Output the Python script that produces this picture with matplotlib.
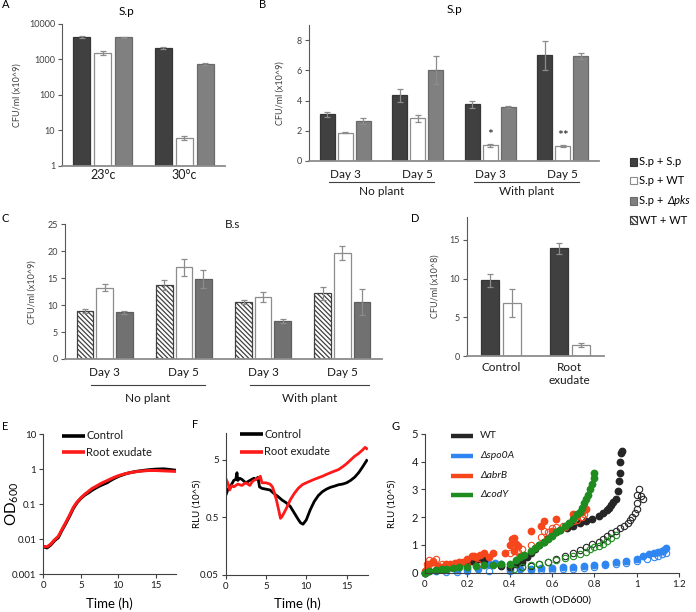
import matplotlib
matplotlib.use("Agg")
import matplotlib.pyplot as plt
import numpy as np
from matplotlib.patches import Rectangle

plt.rcParams["font.family"] = ["Lato", "DejaVu Sans"]
plt.rcParams["mathtext.fontset"] = "custom"
plt.rcParams["mathtext.rm"] = "Lato"
plt.rcParams["mathtext.it"] = "Lato:italic"
plt.rcParams["hatch.linewidth"] = 0.9
plt.rcParams["hatch.color"] = "#404040"

W, H = 696, 612

# ── Panel A: S.p, temperature ───────────────────────────────────────────────
temps = ["23°c", "30°c"]
a_spsp = [4400, 2150]
a_spsp_err = [300, 120]
a_spwt = [1550, 6.3]
a_spwt_err = [180, 0.8]
a_sppks = [4200, 740]
a_sppks_err = [80, 40]

# ── Panel B: S.p, soil ──────────────────────────────────────────────────────
days = ["Day 3", "Day 5", "Day 3", "Day 5"]
plant_groups = ["No plant", "With plant"]
b_spsp = [3.08, 4.34, 3.74, 7.0]
b_spsp_err = [0.15, 0.45, 0.2, 0.95]
b_spwt = [1.87, 2.82, 1.03, 1.01]
b_spwt_err = [0.03, 0.25, 0.12, 0.07]
b_sppks = [2.67, 6.0, 3.59, 6.97]
b_sppks_err = [0.2, 0.93, 0.08, 0.2]
b_stars = ["", "", "*", "**"]

# ── Panel C: B.s ────────────────────────────────────────────────────────────
c_wtwt = [8.9, 13.7, 10.6, 12.2]
c_wtwt_err = [0.35, 0.9, 0.4, 1.2]
c_spwt = [13.2, 17.0, 11.45, 19.6]
c_spwt_err = [0.65, 1.6, 0.9, 1.3]
c_sppks = [8.7, 14.85, 7.0, 10.6]
c_sppks_err = [0.3, 1.6, 0.35, 2.4]

# ── Panel D: root exudate ───────────────────────────────────────────────────
d_cats = ["Control", "Root\nexudate"]
d_spsp = [9.77, 13.93]
d_spsp_err = [0.8, 0.7]
d_spwt = [6.9, 1.41]
d_spwt_err = [1.8, 0.3]

# ── Panel E: growth OD600 ───────────────────────────────────────────────────
e_time = [0, 0.5, 1, 1.5, 2, 2.5, 3, 3.5, 4, 4.5, 5, 5.5, 6, 6.5, 7, 7.5, 8, 8.5,
          9, 9.5, 10, 10.5, 11, 11.5, 12, 12.5, 13, 13.5, 14, 14.5, 15, 15.5,
          16, 16.5, 17, 17.5]
e_ctrl = [0.0060, 0.0056, 0.0068, 0.0090, 0.011, 0.018, 0.028, 0.045, 0.075,
          0.11, 0.145, 0.18, 0.21, 0.25, 0.29, 0.33, 0.37, 0.41, 0.48, 0.55,
          0.62, 0.68, 0.74, 0.79, 0.83, 0.87, 0.90, 0.93, 0.96, 0.98, 1.0,
          1.01, 1.02, 1.0, 0.97, 0.94]
e_root = [0.0062, 0.0060, 0.0072, 0.0095, 0.012, 0.019, 0.030, 0.048, 0.08,
          0.115, 0.15, 0.19, 0.23, 0.28, 0.32, 0.37, 0.42, 0.47, 0.53, 0.59,
          0.65, 0.70, 0.75, 0.79, 0.83, 0.86, 0.88, 0.90, 0.92, 0.92, 0.92,
          0.91, 0.90, 0.89, 0.88, 0.87]

# ── Panel F: RLU ────────────────────────────────────────────────────────────
f_t_ctrl = [0, 0.25, 0.5, 0.75, 1.0, 1.25, 1.4, 1.5, 1.75, 2.0, 2.5, 3.0, 3.5,
            3.8, 4.0, 4.2, 4.5, 5.0, 5.5, 6.0, 6.5, 7.0, 7.5, 8.0, 8.5, 9.0,
            9.3, 9.6, 10.0, 10.5, 11.0, 11.5, 12.0, 12.5, 13.0, 13.5, 14.0,
            14.5, 15.0, 15.5, 16.0, 16.5, 17.0, 17.5]
f_ctrl = [1.2, 1.5, 1.7, 1.9, 2.2, 2.3, 3.0, 2.2, 2.4, 2.3, 2.0, 2.2, 2.4, 2.3,
          2.5, 1.7, 1.6, 1.55, 1.5, 1.3, 1.15, 1.0, 0.9, 0.78, 0.6, 0.46, 0.40,
          0.38, 0.45, 0.68, 0.95, 1.2, 1.4, 1.55, 1.67, 1.75, 1.85, 1.9, 2.0,
          2.2, 2.5, 3.0, 3.8, 4.9]
f_t_root = [0, 0.25, 0.5, 0.75, 1.0, 1.5, 2.0, 2.5, 3.0, 3.3, 3.5, 4.0, 4.3,
            4.5, 5.0, 5.5, 5.8, 6.0, 6.3, 6.6, 6.8, 7.0, 7.3, 7.6, 8.0, 8.5,
            9.0, 9.5, 10.0, 10.5, 11.0, 11.5, 12.0, 12.5, 13.0, 13.5, 14.0,
            14.5, 15.0, 15.5, 16.0, 16.5, 17.0, 17.3, 17.5]
f_root = [2.4, 2.0, 1.5, 1.8, 1.7, 1.9, 1.8, 2.0, 1.8, 2.1, 2.2, 2.4, 2.6, 2.0,
          2.0, 1.9, 1.7, 1.4, 1.0, 0.65, 0.48, 0.52, 0.62, 0.75, 1.0, 1.3, 1.6,
          1.85, 2.0, 2.15, 2.3, 2.45, 2.6, 2.8, 3.0, 3.2, 3.4, 3.8, 4.3, 5.0,
          5.8, 6.5, 7.5, 8.3, 7.9]

# ── Panel G: RLU vs growth ──────────────────────────────────────────────────
g_labels = ["WT", "Δspo0A", "ΔabrB", "ΔcodY"]
g_colors = ["#262626", "#2f86f0", "#f5461c", "#1e8c1e"]
wt_x = [0.0, 0.02, 0.05, 0.08, 0.12, 0.16, 0.20, 0.22, 0.24, 0.26, 0.28, 0.36,
        0.40, 0.43, 0.46, 0.48, 0.50, 0.52, 0.54, 0.56, 0.58, 0.60, 0.62, 0.64,
        0.67, 0.70, 0.73, 0.76, 0.79, 0.82, 0.84, 0.86, 0.87, 0.88, 0.89, 0.90,
        0.91, 0.915, 0.92, 0.92, 0.925, 0.93]
wt_y = [0.0, 0.05, 0.1, 0.15, 0.2, 0.28, 0.35, 0.42, 0.45, 0.48, 0.47, 0.25,
        0.2, 0.3, 0.4, 0.55, 0.7, 0.85, 1.0, 1.12, 1.25, 1.35, 1.45, 1.55, 1.62,
        1.7, 1.8, 1.88, 1.95, 2.05, 2.15, 2.25, 2.35, 2.45, 2.55, 2.65, 2.95,
        3.3, 3.6, 4.0, 4.3, 4.4]
wto_x = [0.46, 0.50, 0.54, 0.58, 0.62, 0.66, 0.70, 0.73, 0.76, 0.79, 0.82,
         0.84, 0.86, 0.88, 0.90, 0.92, 0.94, 0.96, 0.97, 0.98, 0.99, 1.0, 1.0,
         1.0, 1.01, 1.02, 1.03]
wto_y = [0.2, 0.25, 0.32, 0.4, 0.5, 0.6, 0.72, 0.82, 0.92, 1.02, 1.12, 1.22,
         1.32, 1.42, 1.5, 1.6, 1.7, 1.8, 1.9, 2.0, 2.15, 2.3, 2.5, 2.8, 3.0,
         2.75, 2.65]
spo_x = [0.0, 0.05, 0.1, 0.15, 0.2, 0.25, 0.3, 0.33, 0.36, 0.4, 0.45, 0.5,
         0.55, 0.6, 0.65, 0.7, 0.75, 0.8, 0.85, 0.9, 0.95, 1.0, 1.03, 1.06,
         1.08, 1.1, 1.12, 1.13, 1.14]
spo_y = [0.0, 0.05, 0.08, 0.1, 0.12, 0.12, 0.3, 0.35, 0.33, 0.14, 0.15, 0.15,
         0.16, 0.17, 0.19, 0.21, 0.24, 0.28, 0.32, 0.37, 0.42, 0.5, 0.6, 0.66,
         0.7, 0.75, 0.78, 0.82, 0.88]
spoo_x = [0.1, 0.15, 0.2, 0.3, 0.4, 0.5, 0.55, 0.6, 0.65, 0.7, 0.75, 0.8,
          0.85, 0.9, 0.95, 1.0, 1.05, 1.08, 1.1, 1.12, 1.14]
spoo_y = [0.02, 0.04, 0.05, 0.06, 0.07, 0.09, 0.1, 0.11, 0.13, 0.15, 0.18,
          0.22, 0.26, 0.31, 0.36, 0.42, 0.5, 0.56, 0.62, 0.68, 0.72]
abr_x = [0.0, 0.01, 0.02, 0.04, 0.06, 0.08, 0.1, 0.12, 0.14, 0.16, 0.18, 0.2,
         0.22, 0.23, 0.24, 0.26, 0.28, 0.3, 0.32, 0.38, 0.4, 0.41, 0.42, 0.42,
         0.43, 0.44, 0.45, 0.5, 0.55, 0.56, 0.6, 0.62, 0.66, 0.7, 0.72, 0.74,
         0.76]
abr_y = [0.05, 0.15, 0.3, 0.4, 0.25, 0.2, 0.3, 0.3, 0.35, 0.38, 0.4, 0.5, 0.6,
         0.62, 0.58, 0.65, 0.72, 0.55, 0.7, 0.7, 1.0, 1.2, 1.25, 0.8, 1.05,
         0.95, 0.6, 1.5, 1.7, 1.85, 1.5, 1.95, 1.65, 2.1, 2.05, 2.2, 2.28]
abro_x = [0.01, 0.02, 0.04, 0.05, 0.08, 0.12, 0.15, 0.2, 0.25, 0.4, 0.42,
          0.44, 0.46, 0.5, 0.55, 0.56, 0.58, 0.6, 0.62, 0.65, 0.68, 0.7, 0.72,
          0.74, 0.75]
abro_y = [0.3, 0.45, 0.42, 0.5, 0.3, 0.25, 0.2, 0.28, 0.3, 0.7, 0.9, 0.75,
          0.85, 1.0, 1.3, 1.5, 1.45, 1.6, 1.65, 1.7, 1.8, 1.85, 1.9, 2.0, 2.1]
cod_x = [0.0, 0.02, 0.05, 0.08, 0.1, 0.13, 0.16, 0.2, 0.24, 0.28, 0.32, 0.36,
         0.4, 0.43, 0.45, 0.47, 0.5, 0.52, 0.54, 0.56, 0.58, 0.6, 0.62, 0.64,
         0.66, 0.68, 0.7, 0.72, 0.73, 0.74, 0.75, 0.76, 0.77, 0.78, 0.79, 0.8,
         0.8]
cod_y = [0.0, 0.05, 0.1, 0.12, 0.15, 0.18, 0.2, 0.22, 0.25, 0.27, 0.29, 0.31,
         0.33, 0.45, 0.55, 0.65, 0.78, 0.9, 1.0, 1.12, 1.22, 1.32, 1.45, 1.55,
         1.68, 1.8, 1.95, 2.1, 2.2, 2.35, 2.5, 2.65, 2.8, 3.0, 3.2, 3.4, 3.6]
codo_x = [0.42, 0.46, 0.5, 0.54, 0.58, 0.62, 0.66, 0.7, 0.73, 0.76, 0.78,
          0.8, 0.82, 0.84, 0.86, 0.88, 0.9]
codo_y = [0.15, 0.2, 0.26, 0.32, 0.38, 0.45, 0.52, 0.6, 0.68, 0.76, 0.85,
          0.92, 0.98, 1.05, 1.15, 1.25, 1.35]

# bar styles
DARK = dict(color="#404040", edgecolor="#363636")
WHITE = dict(color="white", edgecolor="#8c8c8c")
GRAY = dict(color="#808080", edgecolor="#6a6a6a")
GRAY_C = dict(color="#717171", edgecolor="#5e5e5e")
HATCH = dict(color="white", edgecolor="#404040", hatch="\\" * 7)


def box(x0, y0, x1, y1):
    """pixel box (left, top, right, bottom) -> figure fraction rect"""
    return [x0 / W, 1 - y1 / H, (x1 - x0) / W, (y1 - y0) / H]


def style_bar_axes(ax, ylabel, lab_x):
    for s in ("top", "right"):
        ax.spines[s].set_visible(False)
    ax.spines["left"].set_color("#595959")
    ax.spines["left"].set_linewidth(0.8)
    ax.spines["bottom"].set_color("#8c8c8c")
    ax.spines["bottom"].set_linewidth(1.3)
    ax.tick_params(axis="y", direction="out", length=3, width=0.8,
                   color="#595959", labelsize=6.5, labelcolor="#404040", pad=2)
    ax.set_xticks([])
    ax.set_ylabel(ylabel, fontsize=6.5, color="#404040", va="center")
    ax.yaxis.set_label_coords(lab_x, 0.5)


def draw_bars(ax, series, errs, styles, step, width):
    n = len(series)
    x = np.arange(len(series[0]))
    for i, (vals, err, st) in enumerate(zip(series, errs, styles)):
        pos = x + (i - (n - 1) / 2) * step
        ax.bar(pos, vals, width, linewidth=0.9, zorder=2, **st)
        ax.errorbar(pos, vals, yerr=err, fmt="none", ecolor="#8c8c8c",
                    elinewidth=0.9, capsize=2, capthick=0.9, zorder=3)


def cat_labels(ax, labels, y, size=8.5):
    tr = ax.get_xaxis_transform()
    for i, lab in enumerate(labels):
        ax.text(i, y, lab, transform=tr, ha="center", va="center",
                fontsize=size, color="#1a1a1a")


def group_lines(ax, spans, names, y_line, y_text):
    tr = ax.get_xaxis_transform()
    for (x0, x1), name in zip(spans, names):
        ax.plot([x0, x1], [y_line, y_line], color="#404040", lw=0.8,
                transform=tr, clip_on=False)
        ax.text((x0 + x1) / 2, y_text, name, transform=tr, ha="center",
                va="center", fontsize=8.5, color="#1a1a1a")


def style_line_axes(ax, lab_x, xlab_y):
    for s in ("top", "right"):
        ax.spines[s].set_visible(False)
    for s in ("left", "bottom"):
        ax.spines[s].set_color("#404040")
        ax.spines[s].set_linewidth(0.8)
    ax.tick_params(direction="out", length=3, width=0.8, color="#404040",
                   labelsize=7, labelcolor="#1a1a1a", pad=2)
    ax.tick_params(which="minor", length=0)
    ax.yaxis.label.set_va("center")
    ax.xaxis.label.set_va("center")
    ax.yaxis.set_label_coords(lab_x, 0.5)
    ax.xaxis.set_label_coords(0.5, xlab_y)


def legend_lines(ax, labels, colors, ys, x0, x1, xt, size, lw, italic=False):
    for lab, c, y in zip(labels, colors, ys):
        ax.plot([x0, x1], [y, y], color=c, lw=lw, transform=ax.transAxes,
                clip_on=False, solid_capstyle="butt")
        ax.text(xt, y, lab, transform=ax.transAxes, va="center", ha="left",
                fontsize=size, color="#1a1a1a",
                style="italic" if italic and lab != "WT" else "normal")


fig = plt.figure(figsize=(W / 100, H / 100), dpi=100)

# ── A ───────────────────────────────────────────────────────────────────────
ax = fig.add_axes(box(62, 24, 225, 166))
draw_bars(ax, [a_spsp, a_spwt, a_sppks], [a_spsp_err, a_spwt_err, a_sppks_err],
          [DARK, WHITE, GRAY], 0.258, 0.21)
ax.set_yscale("log")
ax.set_ylim(1, 10000)
ax.set_xlim(-0.5, 1.5)
ax.set_yticks([1, 10, 100, 1000, 10000])
ax.set_yticklabels(["1", "10", "100", "1000", "10000"])
ax.minorticks_off()
style_bar_axes(ax, "CFU/ml (x10^9)", -0.276)
cat_labels(ax, temps, -0.063, size=9)

# ── B ───────────────────────────────────────────────────────────────────────
ax = fig.add_axes(box(309, 25, 599, 161))
draw_bars(ax, [b_spsp, b_spwt, b_sppks], [b_spsp_err, b_spwt_err, b_sppks_err],
          [DARK, WHITE, GRAY], 0.25, 0.207)
ax.set_ylim(0, 9)
ax.set_xlim(-0.5, 3.5)
ax.set_yticks([0, 2, 4, 6, 8])
style_bar_axes(ax, "CFU/ml (x10^9)", -0.1)
for i, s in enumerate(b_stars):
    if s:
        ax.text(i, b_spwt[i] + b_spwt_err[i] + 0.2, s, ha="center",
                va="bottom", fontsize=10, color="#1a1a1a")
cat_labels(ax, days, -0.096)
group_lines(ax, [(-0.23, 1.23), (1.77, 3.23)], plant_groups, -0.154, -0.226)

# ── C ───────────────────────────────────────────────────────────────────────
ax = fig.add_axes(box(65, 224.3, 382, 359))
draw_bars(ax, [c_wtwt, c_spwt, c_sppks], [c_wtwt_err, c_spwt_err, c_sppks_err],
          [HATCH, WHITE, GRAY_C], 0.247, 0.21)
ax.set_ylim(0, 25)
ax.set_xlim(-0.5, 3.5)
ax.set_yticks([0, 5, 10, 15, 20, 25])
style_bar_axes(ax, "CFU/ml (x10^9)", -0.105)
cat_labels(ax, days, -0.102)
group_lines(ax, [(-0.175, 1.27), (1.84, 3.34)], plant_groups, -0.19, -0.29)
ax.text(0.53, 1.0, "B.s", transform=ax.transAxes, ha="center", va="center",
        fontsize=8.5, color="#1a1a1a")

# ── D ───────────────────────────────────────────────────────────────────────
ax = fig.add_axes(box(466.5, 216.7, 604, 356))
draw_bars(ax, [d_spsp, d_spwt], [d_spsp_err, d_spwt_err], [DARK, WHITE],
          0.32, 0.26)
ax.set_ylim(0, 18)
ax.set_xlim(-0.5, 1.5)
ax.set_yticks([0, 5, 10, 15])
style_bar_axes(ax, "CFU/ml (x10^8)", -0.23)
tr = ax.get_xaxis_transform()
for i, lab in enumerate(d_cats):
    ax.text(i, -0.045, lab, transform=tr, ha="center", va="top",
            fontsize=8.5, color="#1a1a1a", linespacing=1.15)

# ── bar legend ──────────────────────────────────────────────────────────────
leg_y = [162, 180.5, 201, 220]
leg_styles = [DARK, WHITE, GRAY, HATCH]
for y, st in zip(leg_y, leg_styles):
    r = Rectangle((630 / W, 1 - (y + 3.8) / H), 7 / W, 7.6 / H,
                  transform=fig.transFigure, facecolor=st["color"],
                  edgecolor=st["edgecolor"], hatch=st.get("hatch"),
                  linewidth=0.8)
    fig.add_artist(r)
fig.text(639 / W, 1 - leg_y[0] / H, "S.p + S.p", va="center", fontsize=8)
fig.text(639 / W, 1 - leg_y[1] / H, "S.p + WT", va="center", fontsize=8)
t = fig.text(639 / W, 1 - leg_y[2] / H, "S.p + ", va="center", fontsize=8)
fig.text(639 / W, 1 - leg_y[3] / H, "WT + WT", va="center", fontsize=8)
rend = fig.canvas.get_renderer()
bb = t.get_window_extent(renderer=rend)
fig.text(bb.x1 / W + 1 / W, 1 - leg_y[2] / H, "Δpks", va="center",
         fontsize=8, style="italic")

# ── E ───────────────────────────────────────────────────────────────────────
ax = fig.add_axes(box(43.3, 434.3, 176, 574))
ax.plot(e_time, e_ctrl, color="black", lw=2.2)
ax.plot(e_time, e_root, color="#ff1a1a", lw=2.2)
ax.set_yscale("log")
ax.set_ylim(0.001, 10)
ax.set_xlim(0, 17.7)
ax.set_yticks([0.001, 0.01, 0.1, 1, 10])
ax.set_yticklabels(["0.001", "0.01", "0.1", "1", "10"])
ax.set_xticks([0, 5, 10, 15])
ax.set_ylabel("OD$_{600}$", fontsize=11)
ax.set_xlabel("Time (h)", fontsize=9.5)
style_line_axes(ax, -0.236, -0.21)
legend_lines(ax, ["Control", "Root exudate"], ["black", "#ff1a1a"],
             [0.99, 0.871], 0.139, 0.314, 0.322, 8, 2.6)

# ── F ───────────────────────────────────────────────────────────────────────
ax = fig.add_axes(box(225.7, 433.3, 368.3, 574.7))
ax.plot(f_t_ctrl, f_ctrl, color="black", lw=2.0)
ax.plot(f_t_root, f_root, color="#ff1a1a", lw=2.0)
ax.set_yscale("log")
ax.set_ylim(0.05, 14.6)
ax.set_xlim(0, 17.7)
ax.set_yticks([0.05, 0.5, 5])
ax.set_yticklabels(["0.05", "0.5", "5"])
ax.set_xticks([0, 5, 10, 15])
ax.set_ylabel("RLU (10^5)", fontsize=7)
ax.set_xlabel("Time (h)", fontsize=9.5)
style_line_axes(ax, -0.2, -0.207)
legend_lines(ax, ["Control", "Root exudate"], ["black", "#ff1a1a"],
             [0.995, 0.87], 0.1, 0.26, 0.269, 8, 2.6)

# ── G ───────────────────────────────────────────────────────────────────────
ax = fig.add_axes(box(425, 434, 679, 572.7))
filled = [(wt_x, wt_y), (spo_x, spo_y), (abr_x, abr_y), (cod_x, cod_y)]
opened = [(wto_x, wto_y), (spoo_x, spoo_y), (abro_x, abro_y), (codo_x, codo_y)]
for k in [1, 0, 2, 3]:
    c = g_colors[k]
    ox, oy = opened[k]
    ax.plot(ox, oy, "o", ms=4.6, mfc="none", mec=c, mew=0.8, ls="none",
            clip_on=False)
    fx, fy = filled[k]
    ax.plot(fx, fy, "o", ms=4.6, color=c, mec=c, ls="none", clip_on=False)
ax.set_xlim(0, 1.2)
ax.set_ylim(0, 5)
ax.set_xticks([0, 0.2, 0.4, 0.6, 0.8, 1.0, 1.2])
ax.set_xticklabels(["0", "0.2", "0.4", "0.6", "0.8", "1", "1.2"])
ax.set_yticks([0, 1, 2, 3, 4, 5])
ax.set_ylabel("RLU (10^5)", fontsize=7)
ax.set_xlabel("Growth (OD600)", fontsize=7.5)
style_line_axes(ax, -0.13, -0.197)
ax.tick_params(axis="y", labelsize=8)
legend_lines(ax, g_labels, g_colors, [0.988, 0.844, 0.7, 0.562],
             0.102, 0.189, 0.217, 7.5, 3.2, italic=True)

# ── titles and panel letters ────────────────────────────────────────────────
fig.text(126 / W, 1 - 11.5 / H, "S.p", ha="center", va="center", fontsize=8.5)
fig.text(454 / W, 1 - 9.5 / H, "S.p", ha="center", va="center", fontsize=8.5)
for lab, x, y in [("A", 2, 5), ("B", 259, 5), ("C", 2, 218), ("D", 411, 218),
                  ("E", 2, 426), ("F", 192, 425), ("G", 391, 426)]:
    fig.text(x / W, 1 - y / H, lab, ha="left", va="center", fontsize=8)

fig.savefig("out.png", dpi=100)
